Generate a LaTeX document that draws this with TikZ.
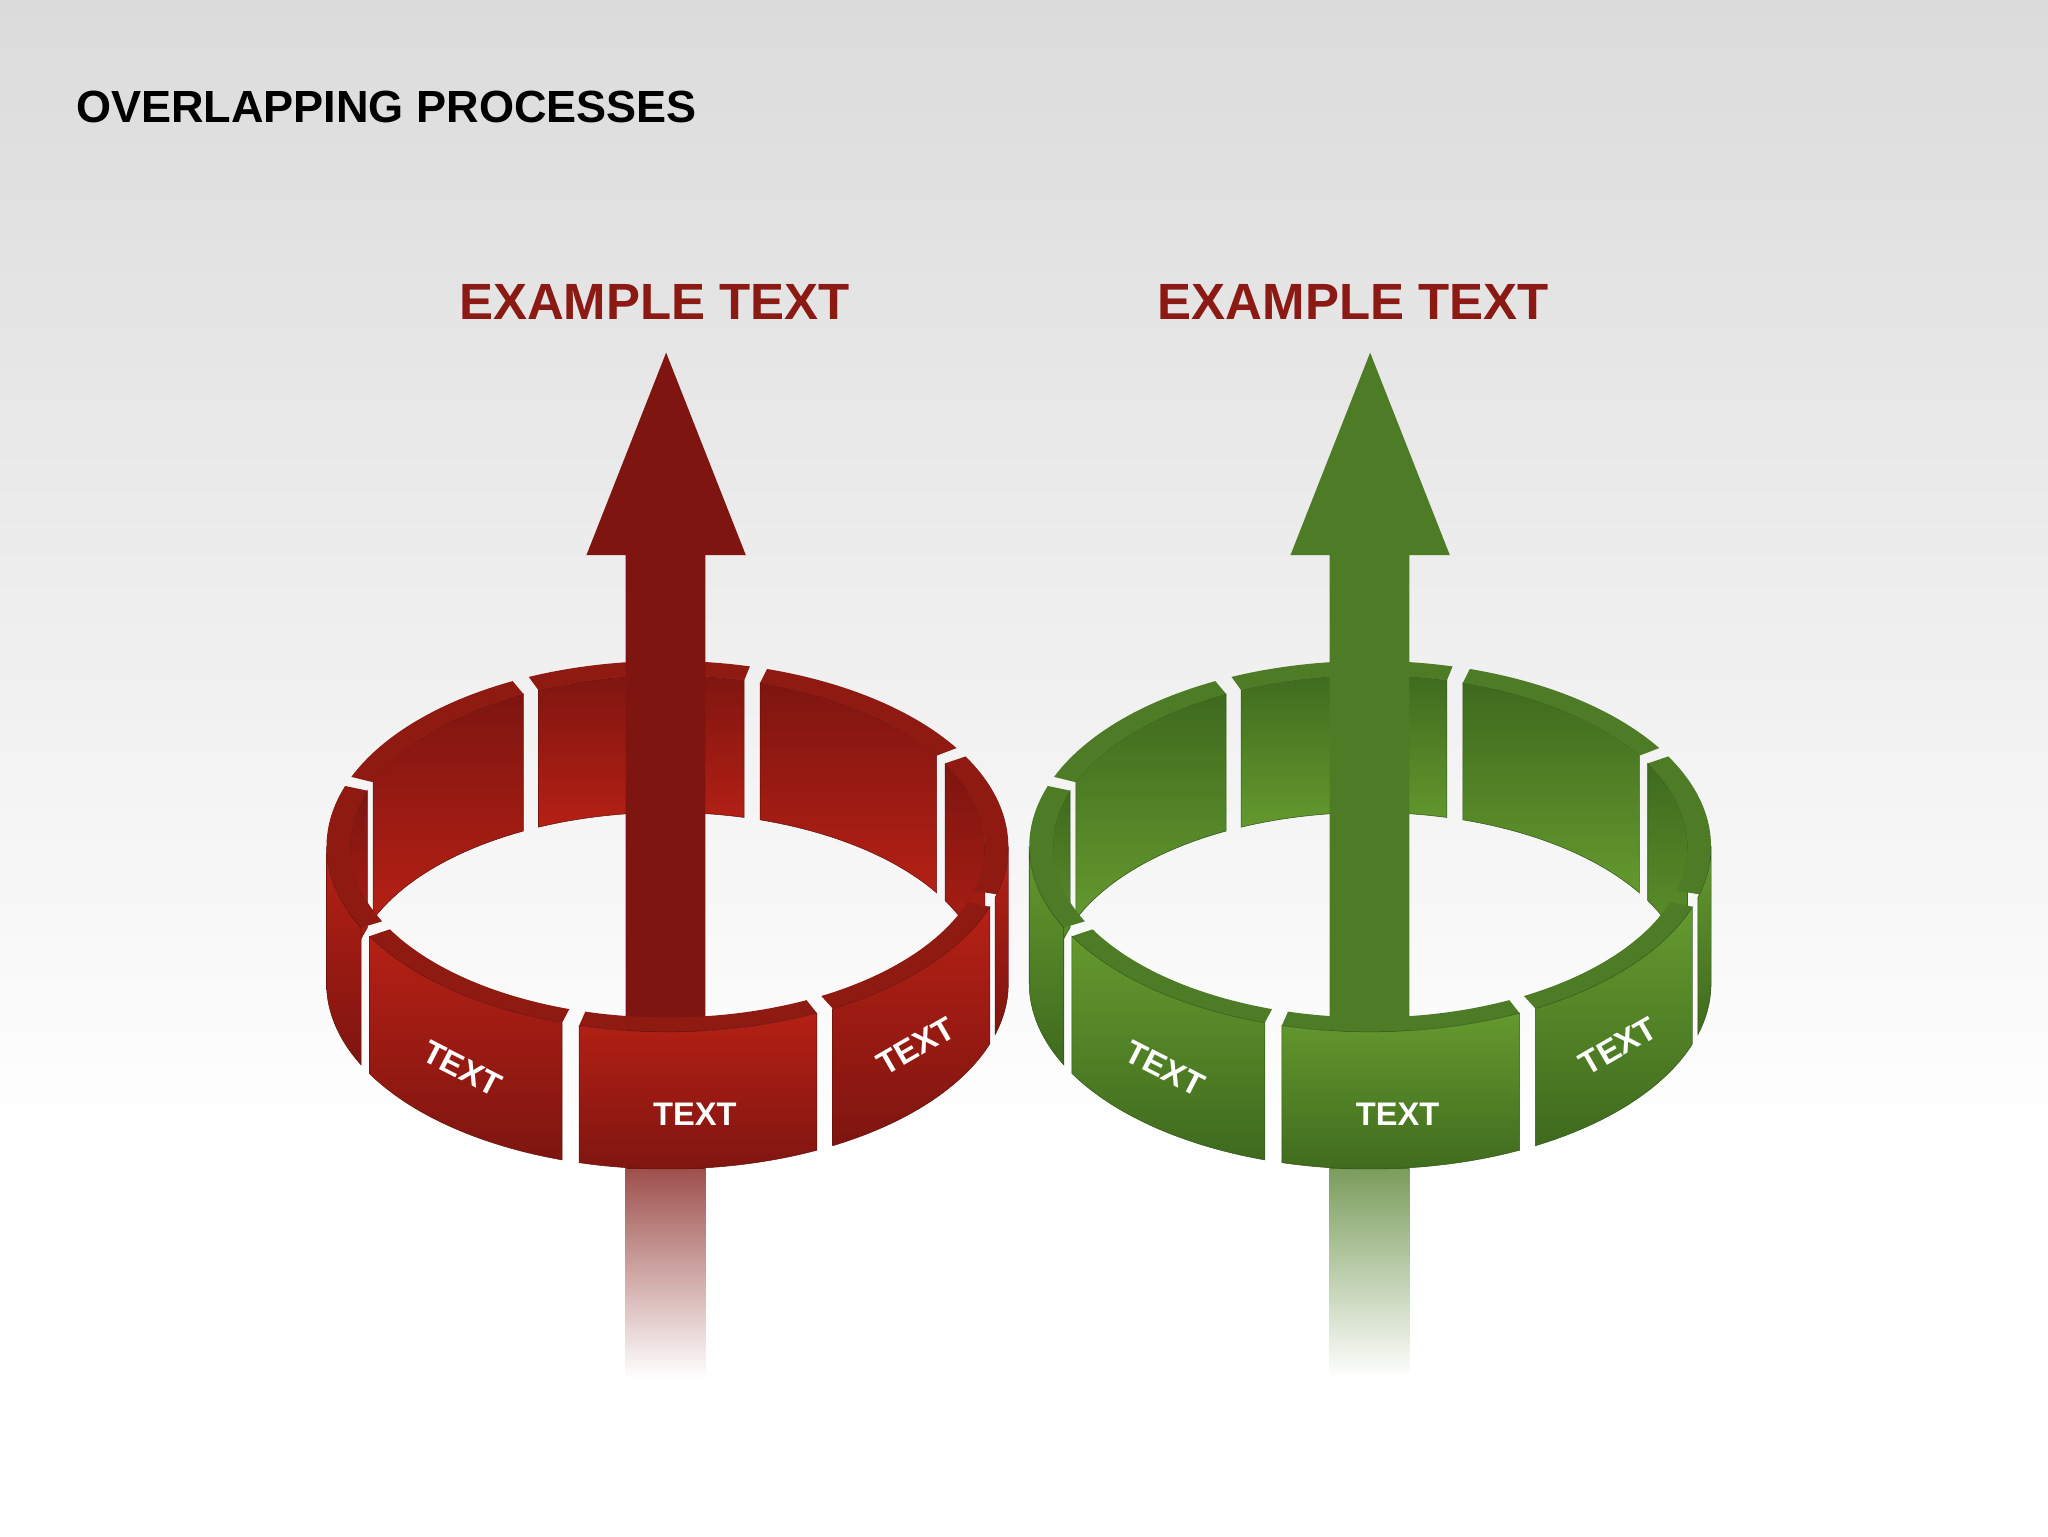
\documentclass[tikz,border=0pt]{standalone}
\usepackage{fontspec}
\setmainfont{Liberation Sans}
\definecolor{rA}{HTML}{B52015}
\definecolor{rB}{HTML}{7E1510}
\definecolor{rC}{HTML}{8E1A12}
\definecolor{gA}{HTML}{64992E}
\definecolor{gB}{HTML}{3F6A1E}
\definecolor{gC}{HTML}{4E7C26}
\definecolor{extxt}{HTML}{8B1A14}
\def\rx{261}\def\ry{142}\def\hh{105}\def\rxi{243}\def\ryi{131}\def\cy{528}
\newcommand{\outerwall}[3]{% cx a b
 \shade[top color=colA,bottom color=colB,draw=colB!80!black,line width=0.4pt]
 ([shift={(#1,\cy)}]#2:\rx\space and \ry) arc[start angle=#2,end angle=#3,x radius=\rx,y radius=\ry]
 -- ++(0,-\hh) arc[start angle=#3,end angle=#2,x radius=\rx,y radius=\ry] -- cycle;}
\newcommand{\innerwall}[3]{%
 \shade[top color=colB,bottom color=colA,draw=colB!80!black,line width=0.4pt]
 ([shift={(#1,\cy)}]#2:\rxi\space and \ryi) arc[start angle=#2,end angle=#3,x radius=\rxi,y radius=\ryi]
 -- ++(0,-\hh) arc[start angle=#3,end angle=#2,x radius=\rxi,y radius=\ryi] -- cycle;}
\newcommand{\topface}[3]{%
 \fill[colC] ([shift={(#1,\cy)}]#2:\rx\space and \ry) arc[start angle=#2,end angle=#3,x radius=\rx,y radius=\ry]
 -- ([shift={(#1,\cy)}]#3:\rxi\space and \ryi) arc[start angle=#3,end angle=#2,x radius=\rxi,y radius=\ryi] -- cycle;}
\newcommand{\backphase}[1]{%
 \innerwall{#1}{0}{29}\innerwall{#1}{32}{73}\innerwall{#1}{76}{114}\innerwall{#1}{117}{158}\innerwall{#1}{161}{180}
 \topface{#1}{-15}{29}\topface{#1}{32}{73}\topface{#1}{76}{114}\topface{#1}{117}{158}\topface{#1}{161}{206}}
\newcommand{\frontphase}[1]{%
 \topface{#1}{209}{252}\topface{#1}{255}{296}\topface{#1}{299}{341}
 \outerwall{#1}{180}{206}\outerwall{#1}{209}{252}\outerwall{#1}{255}{296}\outerwall{#1}{299}{341}\outerwall{#1}{344}{360}
 \node[lbl,rotate=-27] (l#1a) at (#1-157,358) {TEXT};
 \node[lbl] (l#1b) at (#1+21,323) {TEXT};
 \node[lbl,rotate=30] (l#1c) at (#1+190,375) {TEXT};}
\newcommand{\arrowup}[2]{% cx color
 \shade[top color=#2!75,bottom color=white] (#1-31,281) rectangle (#1+30,121);
 \fill[#2] (#1-31,281) -- (#1-31,751) -- (#1-61,751) -- (#1,906) -- (#1+61,751) -- (#1+30,751) -- (#1+30,281) -- cycle;}
\tikzset{lbl/.style={text=white,font=\bfseries\fontsize{25}{25}\selectfont,inner sep=0pt},
 ex/.style={text=extxt,font=\bfseries\fontsize{39}{39}\selectfont,inner sep=0pt}}
\begin{document}
\begin{tikzpicture}[x=1pt,y=1pt]
\useasboundingbox (0,0) rectangle (1568,1176);
\shade[top color={rgb,255:red,219;green,219;blue,219},bottom color=white] (0,300) rectangle (1568,1176);
\fill[white] (0,0) rectangle (1568,300.5);
\node[anchor=west,inner sep=0pt,font=\bfseries\fontsize{34.5}{34.5}\selectfont] (title) at (58,1094) {OVERLAPPING PROCESSES};
\node[ex] (e1) at (501,945) {EXAMPLE TEXT};
\node[ex] (e2) at (1036,945) {EXAMPLE TEXT};
\begin{scope}
\colorlet{colA}{rA}\colorlet{colB}{rB}\colorlet{colC}{rC}
\backphase{511}
\arrowup{510}{rB}
\frontphase{511}
\end{scope}
\begin{scope}
\colorlet{colA}{gA}\colorlet{colB}{gB}\colorlet{colC}{gC}
\backphase{1049}
\arrowup{1049}{gC}
\frontphase{1049}
\end{scope}
\end{tikzpicture}
\end{document}
